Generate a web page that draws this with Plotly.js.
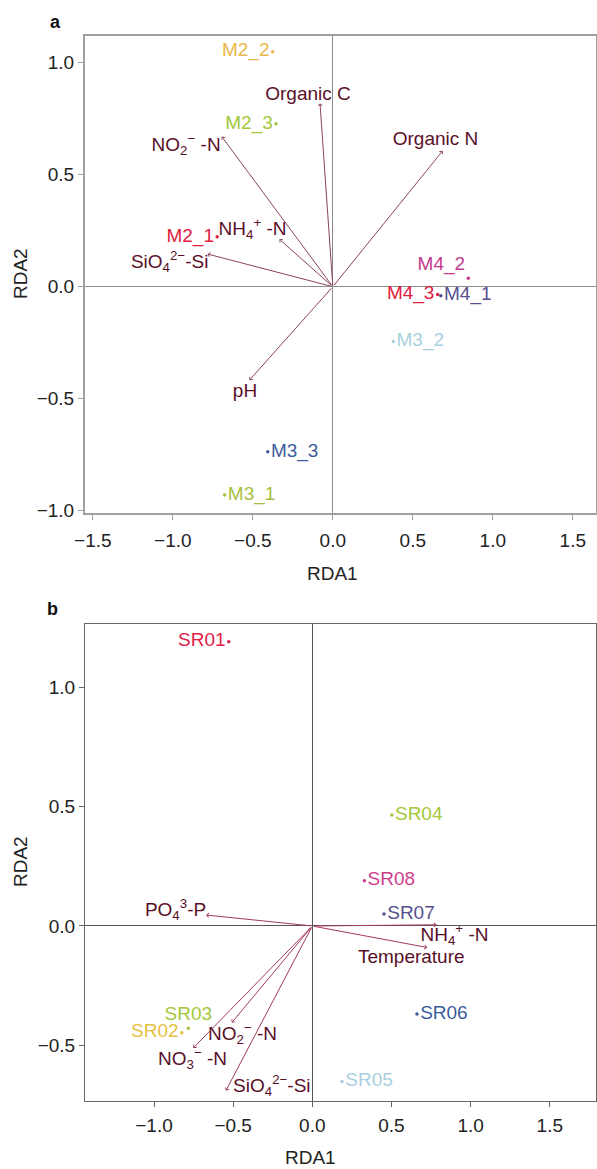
<!DOCTYPE html>
<html>
<head>
<meta charset="utf-8">
<script src="https://cdn.plot.ly/plotly-3.0.1.min.js"></script>
<style>html,body{margin:0;padding:0;background:#fff;}#chart{width:597px;height:1169px;}</style>
</head>
<body>
<div id="chart"></div>
<script>
// ---------- Panel a data ----------
const aSites = ['M2_2','M2_3','M2_1','M4_2','M4_3','M4_1','M3_2','M3_3','M3_1'];
const aSiteX = [-0.376,-0.355,-0.723,0.847,0.655,0.675,0.378,-0.407,-0.676];
const aSiteY = [1.049,0.727,0.223,0.038,-0.035,-0.040,-0.245,-0.737,-0.930];
const aEnv = ['Organic C','Organic N','NO<sub>2</sub><sup>−</sup> -N','NH<sub>4</sub><sup>+</sup> -N','SiO<sub>4</sub><sup>2−</sup>-Si','pH'];
const aEnvX = [-0.080,0.687,-0.694,-0.334,-0.784,-0.521];
const aEnvY = [0.819,0.607,0.670,0.212,0.146,-0.417];
const aEnvLabelX = [-0.155,0.642,-0.917,-0.502,-1.020,-0.549];
const aEnvLabelY = [0.856,0.655,0.625,0.253,0.104,-0.473];
const aTicksX = [-1.5,-1.0,-0.5,0.0,0.5,1.0,1.5];
const aTicksY = [-1.0,-0.5,0.0,0.5,1.0];

// ---------- Panel b data ----------
const bSites = ['SR01','SR02','SR03','SR04','SR05','SR06','SR07','SR08'];
const bSiteX = [-0.528,-0.825,-0.783,0.502,0.188,0.661,0.453,0.329];
const bSiteY = [1.191,-0.447,-0.428,0.465,-0.652,-0.369,0.050,0.190];
const bEnv = ['PO<sub>4</sub><sup>3</sup>-P','NO<sub>2</sub><sup>−</sup> -N','NO<sub>3</sub><sup>−</sup> -N','SiO<sub>4</sub><sup>2−</sup>-Si','NH<sub>4</sub><sup>+</sup> -N','Temperature'];
const bEnvX = [-0.671,-0.509,-0.752,-0.546,0.786,0.726];
const bEnvY = [0.046,-0.405,-0.511,-0.690,0.005,-0.090];
const bEnvLabelX = [-0.864,-0.441,-0.757,-0.256,0.898,0.625];
const bEnvLabelY = [0.060,-0.458,-0.561,-0.676,-0.045,-0.135];
const bTicksX = [-1.0,-0.5,0.0,0.5,1.0,1.5];
const bTicksY = [-0.5,0.0,0.5,1.0];

// ---------- styles ----------
const aSiteColors = ['#e9b84c','#a3c83a','#e0203e','#c4398a','#e0203e','#56508e','#a9d0dc','#3d5b9c','#a6bf3e'];
const aSitePos = ['middle left','middle left','middle left','top left','middle left','middle right','middle right','middle right','middle right'];
const bSiteColors = ['#e0204a','#e6c040','#a3c83a','#a3c83a','#a9cfe0','#3d5b9c','#56508e','#cf3f8c'];
const bSitePos = ['middle left','middle left','top center','middle right','middle right','middle right','middle right','middle right'];
const labelColor = '#5a0f28';
const FONT = 'Liberation Sans, Arial, Helvetica, sans-serif';
const FS = 19;

const W = 597, H = 1169;
const px = v => v / W;
const py = v => 1 - v / H;

const traces = [
  {x: aSiteX, y: aSiteY, text: aSites, mode: 'markers+text', type: 'scatter',
   xaxis: 'x', yaxis: 'y', textposition: aSitePos,
   marker: {size: 3.5, color: aSiteColors},
   textfont: {family: FONT, size: FS, color: aSiteColors}, hoverinfo: 'none', cliponaxis: false},
  {x: aEnvLabelX, y: aEnvLabelY, text: aEnv, mode: 'text', type: 'scatter',
   xaxis: 'x', yaxis: 'y', textposition: 'middle center',
   textfont: {family: FONT, size: FS, color: labelColor}, hoverinfo: 'none', cliponaxis: false},
  {x: bSiteX, y: bSiteY, text: bSites, mode: 'markers+text', type: 'scatter',
   xaxis: 'x2', yaxis: 'y2', textposition: bSitePos,
   marker: {size: 3.5, color: bSiteColors},
   textfont: {family: FONT, size: FS, color: bSiteColors}, hoverinfo: 'none', cliponaxis: false},
  {x: bEnvLabelX, y: bEnvLabelY, text: bEnv, mode: 'text', type: 'scatter',
   xaxis: 'x2', yaxis: 'y2', textposition: 'middle center',
   textfont: {family: FONT, size: FS, color: labelColor}, hoverinfo: 'none', cliponaxis: false}
];

const annotations = [];
aEnvX.forEach((v, i) => annotations.push({
  xref: 'x', yref: 'y', axref: 'x', ayref: 'y', x: v, y: aEnvY[i], ax: 0, ay: 0,
  text: '', showarrow: true, arrowhead: 4, arrowsize: 0.8, arrowwidth: 1, arrowcolor: '#8a4658'}));
bEnvX.forEach((v, i) => annotations.push({
  xref: 'x2', yref: 'y2', axref: 'x2', ayref: 'y2', x: v, y: bEnvY[i], ax: 0, ay: 0,
  text: '', showarrow: true, arrowhead: 4, arrowsize: 0.8, arrowwidth: 1, arrowcolor: '#a23a58'}));

const txt = (t, x, y, extra) => Object.assign({xref: 'paper', yref: 'paper', x: x, y: y,
  text: t, showarrow: false, xanchor: 'center', yanchor: 'middle',
  font: {family: FONT, size: FS, color: '#222'}}, extra || {});
annotations.push(txt('<b>a</b>', px(55), py(22), {font: {family: FONT, size: 18, color: '#111'}}));
annotations.push(txt('<b>b</b>', px(52), py(609), {font: {family: FONT, size: 18, color: '#111'}}));
annotations.push(txt('RDA1', px(332), py(573)));
annotations.push(txt('RDA2', px(20), py(274), {textangle: -90}));
annotations.push(txt('RDA1', px(310), py(1157)));
annotations.push(txt('RDA2', px(20), py(862), {textangle: -90}));

const axisCommon = {
  showgrid: false, showline: true, mirror: true, ticks: 'outside', ticklen: 5,
  tickformat: '.1f', tickfont: {family: FONT, size: FS, color: '#222'},
  zeroline: true, fixedrange: true
};

const layout = {
  width: W, height: H, margin: {l: 0, r: 0, t: 0, b: 0},
  paper_bgcolor: '#fff', plot_bgcolor: '#fff', showlegend: false,
  xaxis: Object.assign({}, axisCommon, {domain: [px(85), px(596)], range: [-1.549, 1.645],
    tickmode: 'array', tickvals: aTicksX, linecolor: '#a0a0a0', linewidth: 2, tickcolor: '#a0a0a0',
    zerolinecolor: '#8c8c8c', zerolinewidth: 1.3, anchor: 'y', ticklabelstandoff: 4}),
  yaxis: Object.assign({}, axisCommon, {domain: [py(513), py(36)], range: [-1.010, 1.119],
    tickmode: 'array', tickvals: aTicksY, linecolor: '#a0a0a0', linewidth: 2, tickcolor: '#a0a0a0',
    zerolinecolor: '#8c8c8c', zerolinewidth: 1.3, anchor: 'x'}),
  xaxis2: Object.assign({}, axisCommon, {domain: [px(85), px(596)], range: [-1.436, 1.792],
    tickmode: 'array', tickvals: bTicksX, linecolor: '#666', linewidth: 1, tickcolor: '#666',
    zerolinecolor: '#555', zerolinewidth: 1, anchor: 'y2', ticklabelstandoff: 2}),
  yaxis2: Object.assign({}, axisCommon, {domain: [py(1100.7), py(624.3)], range: [-0.732, 1.264],
    tickmode: 'array', tickvals: bTicksY, linecolor: '#666', linewidth: 1, tickcolor: '#666',
    zerolinecolor: '#555', zerolinewidth: 1, anchor: 'x2'}),
  annotations: annotations
};

Plotly.newPlot('chart', traces, layout, {staticPlot: true, displayModeBar: false});
</script>
</body>
</html>
